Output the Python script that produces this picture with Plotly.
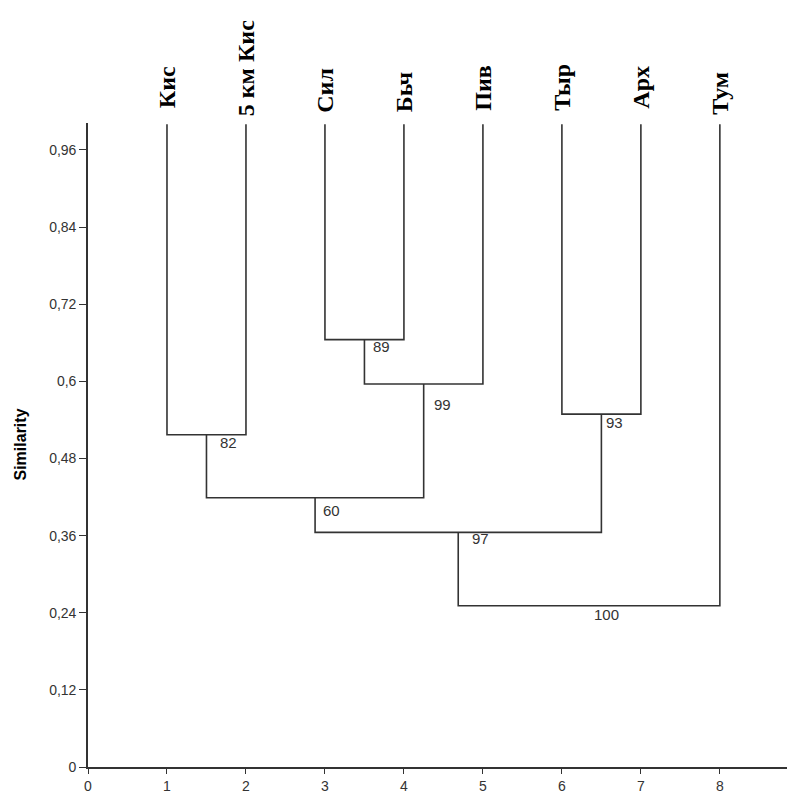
import plotly.graph_objects as go

# ---- data ----
leaf_names = ["Кис", "5 км Кис", "Сил", "Бьч", "Пив", "Тыр", "Арх", "Тум"]
leaf_similarity = 1.0
# merges: (left child, right child, similarity); node ids 0..7 leaves, 8.. merges
merge_left = [0, 2, 9, 5, 8, 12, 13]
merge_right = [1, 3, 4, 6, 10, 11, 7]
merge_similarity = [0.517, 0.665, 0.596, 0.549, 0.419, 0.365, 0.251]
bootstrap = [82, 89, 99, 93, 60, 97, 100]
y_tick_vals = [0, 0.12, 0.24, 0.36, 0.48, 0.6, 0.72, 0.84, 0.96]
y_tick_text = ["0", "0,12", "0,24", "0,36", "0,48", "0,6", "0,72", "0,84", "0,96"]
x_tick_vals = [0, 1, 2, 3, 4, 5, 6, 7, 8]

# label placement offsets (px), styling only
leaf_dy = [14, 6, 10, 10, 12, 12, 14, 8]
boot_dx = [12, 7, 8, 3, 6, 12, 3]
boot_dy = [-8, -7, -21, -8, -13, -6, -9]

# ---- compute node positions ----
node_x = [i + 1 for i in range(len(leaf_names))]
node_y = [leaf_similarity] * len(leaf_names)
for l, r, h in zip(merge_left, merge_right, merge_similarity):
    node_x.append((node_x[l] + node_x[r]) / 2)
    node_y.append(h)

xs, ys = [], []
for k, (l, r, h) in enumerate(zip(merge_left, merge_right, merge_similarity)):
    xs += [node_x[l], node_x[l], node_x[r], node_x[r], None]
    ys += [node_y[l], h, h, node_y[r], None]

fig = go.Figure()
fig.add_trace(go.Scatter(x=xs, y=ys, mode="lines",
                         line=dict(color="#333333", width=1.6),
                         hoverinfo="skip", showlegend=False))

annotations = []
for i, name in enumerate(leaf_names):
    annotations.append(dict(x=node_x[i], y=leaf_similarity, text="<b>%s</b>" % name,
                            textangle=-90, xanchor="center", yanchor="bottom",
                            yshift=leaf_dy[i], showarrow=False,
                            font=dict(family="Liberation Serif", size=24, color="#000000")))
for k, b in enumerate(bootstrap):
    nid = len(leaf_names) + k
    annotations.append(dict(x=node_x[nid], y=node_y[nid], text=str(b),
                            xanchor="left", yanchor="middle",
                            xshift=boot_dx[k], yshift=boot_dy[k], showarrow=False,
                            font=dict(family="Liberation Sans", size=15, color="#333333")))
annotations.append(dict(x=0, xref="paper", xanchor="right", xshift=-58,
                        y=0.5, yref="paper", yanchor="middle",
                        text="<b>Similarity</b>", textangle=-90, showarrow=False,
                        font=dict(family="Liberation Sans", size=16, color="#000000")))

fig.update_layout(
    width=787, height=794,
    margin=dict(l=88, r=0, t=123, b=24),
    plot_bgcolor="white", paper_bgcolor="white",
    annotations=annotations,
    xaxis=dict(range=[0, 8.85], tickvals=x_tick_vals, ticks="outside", ticklen=5,
               tickcolor="#333333", showline=True, linecolor="#333333", linewidth=1.6,
               showgrid=False, zeroline=False,
               tickfont=dict(family="Liberation Sans", size=14, color="#333333")),
    yaxis=dict(range=[0, 1.002], tickvals=y_tick_vals, ticktext=y_tick_text,
               ticks="outside", ticklen=7, tickcolor="#333333",
               showline=True, linecolor="#333333", linewidth=1.6,
               showgrid=False, zeroline=False,
               tickfont=dict(family="Liberation Sans", size=14, color="#333333")),
)

fig.write_html("out.html", config={"displayModeBar": False},
               post_script="document.body.style.margin='0px';")
